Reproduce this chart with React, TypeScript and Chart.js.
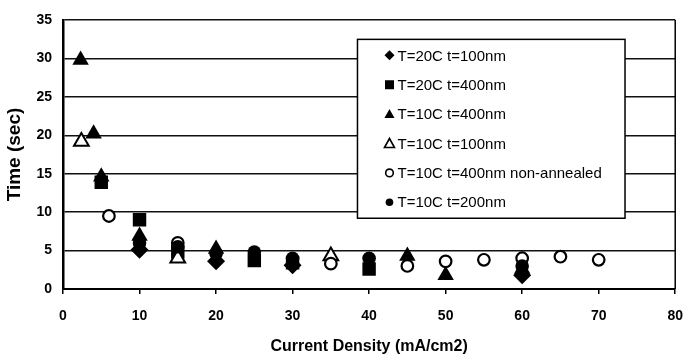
import React, { useEffect, useRef } from 'react';
import { Chart, registerables } from 'chart.js';

Chart.register(...registerables);

const seriesLabels = [
  'T=20C t=100nm',
  'T=20C t=400nm',
  'T=10C t=400nm',
  'T=10C t=100nm',
  'T=10C t=400nm non-annealed',
  'T=10C t=200nm',
];

// T=20C t=100nm (filled diamond)
const s1X = [10, 20, 30, 60];
const s1Y = [5.1, 3.6, 3.1, 1.8];
// T=20C t=400nm (filled square)
const s2X = [5, 10, 15, 25, 30, 40];
const s2Y = [13.9, 9.0, 4.8, 3.7, 3.4, 2.6];
// T=10C t=400nm (filled triangle)
const s3X = [2.3, 4, 5, 10, 20, 45, 50, 60];
const s3Y = [29.8, 20.2, 14.6, 6.9, 5.2, 4.3, 1.8, 2.6];
// T=10C t=100nm (open triangle)
const s4X = [2.4, 15, 35];
const s4Y = [19.2, 4.0, 4.3];
// T=10C t=400nm non-annealed (open circle)
const s5X = [6, 15, 35, 45, 50, 55, 60, 65, 70];
const s5Y = [9.5, 6.0, 3.3, 3.0, 3.6, 3.8, 4.0, 4.2, 3.8];
// T=10C t=200nm (filled circle)
const s6X = [10, 15, 20, 25, 30, 40, 60];
const s6Y = [6.0, 5.5, 4.6, 4.8, 4.0, 4.0, 3.0];

const xTicks = [0, 10, 20, 30, 40, 50, 60, 70, 80];
const yTicks = [0, 5, 10, 15, 20, 25, 30, 35];

const xTitle = 'Current Density (mA/cm2)';
const yTitle = 'Time (sec)';

const FONT = '"Liberation Sans", Arial, sans-serif';

type Marker = 'diamond' | 'square' | 'triangle' | 'circle';
const markerKinds: Marker[] = ['diamond', 'square', 'triangle', 'triangle', 'circle', 'circle'];
const markerFilled = [true, true, true, false, false, true];

const toPts = (xs: number[], ys: number[]) => xs.map((x, i) => ({ x, y: ys[i] }));

function drawMarker(ctx: CanvasRenderingContext2D, kind: Marker, x: number, y: number, s: number, filled: boolean) {
  ctx.save();
  ctx.beginPath();
  if (kind === 'diamond') {
    ctx.moveTo(x, y - s);
    ctx.lineTo(x + s, y);
    ctx.lineTo(x, y + s);
    ctx.lineTo(x - s, y);
    ctx.closePath();
  } else if (kind === 'square') {
    ctx.rect(x - s, y - s, 2 * s, 2 * s);
  } else if (kind === 'triangle') {
    ctx.moveTo(x, y - s);
    ctx.lineTo(x + s, y + s * 0.8);
    ctx.lineTo(x - s, y + s * 0.8);
    ctx.closePath();
  } else {
    ctx.arc(x, y, s, 0, Math.PI * 2);
  }
  if (filled) {
    ctx.fillStyle = '#000';
    ctx.fill();
  } else {
    ctx.fillStyle = '#fff';
    ctx.fill();
    ctx.lineWidth = 1.6;
    ctx.strokeStyle = '#000';
    ctx.stroke();
  }
  ctx.restore();
}

const framePlugin = {
  id: 'frameLegend',
  beforeDatasetsDraw(chart: any) {
    const { ctx, chartArea } = chart;
    ctx.save();
    ctx.strokeStyle = '#000';
    ctx.lineWidth = 1.5;
    ctx.beginPath();
    ctx.moveTo(chartArea.right, chartArea.top);
    ctx.lineTo(chartArea.right, chartArea.bottom);
    ctx.stroke();
    ctx.restore();
  },
  afterDatasetsDraw(chart: any) {
    const { ctx, chartArea } = chart;
    const w = chartArea.right - chartArea.left;
    const h = chartArea.bottom - chartArea.top;
    const left = chartArea.left + w * 0.481;
    const right = chartArea.left + w * 0.918;
    const top = chartArea.top + h * 0.072;
    const bottom = chartArea.top + h * 0.737;
    ctx.save();
    ctx.fillStyle = '#fff';
    ctx.fillRect(left, top, right - left, bottom - top);
    ctx.strokeStyle = '#000';
    ctx.lineWidth = 1.5;
    ctx.strokeRect(left, top, right - left, bottom - top);
    const rowH = (bottom - top - 32) / (seriesLabels.length - 1);
    ctx.font = `15px ${FONT}`;
    ctx.textBaseline = 'middle';
    ctx.textAlign = 'left';
    seriesLabels.forEach((label, i) => {
      const y = top + 16 + i * rowH;
      const mx = left + 32;
      const kind = markerKinds[i];
      const size = kind === 'circle' ? 3.8 : kind === 'triangle' ? 5 : kind === 'diamond' ? 5 : 4.5;
      drawMarker(ctx, kind, mx, y, size, markerFilled[i]);
      ctx.fillStyle = '#000';
      ctx.fillText(label, left + 40, y + 1);
    });
    ctx.restore();
  },
};

export default function App() {
  const canvasRef = useRef<HTMLCanvasElement | null>(null);

  useEffect(() => {
    const canvas = canvasRef.current;
    if (!canvas) return;
    const black = '#000';
    const white = '#fff';
    const chart = new Chart(canvas, {
      type: 'scatter',
      data: {
        datasets: [
          {
            label: seriesLabels[0], data: toPts(s1X, s1Y), order: 6,
            pointStyle: 'rectRot', pointRadius: 9, backgroundColor: black, borderColor: black, borderWidth: 0,
          },
          {
            label: seriesLabels[1], data: toPts(s2X, s2Y), order: 5,
            pointStyle: 'rect', pointRadius: 9.5, backgroundColor: black, borderColor: black, borderWidth: 0,
          },
          {
            label: seriesLabels[2], data: toPts(s3X, s3Y), order: 4,
            pointStyle: 'triangle', pointRadius: 9.5, backgroundColor: black, borderColor: black, borderWidth: 0,
          },
          {
            label: seriesLabels[3], data: toPts(s4X, s4Y), order: 3,
            pointStyle: 'triangle', pointRadius: 8.5, backgroundColor: white, borderColor: black, borderWidth: 2,
          },
          {
            label: seriesLabels[4], data: toPts(s5X, s5Y), order: 2,
            pointStyle: 'circle', pointRadius: 5.8, backgroundColor: white, borderColor: black, borderWidth: 2.2,
          },
          {
            label: seriesLabels[5], data: toPts(s6X, s6Y), order: 1,
            pointStyle: 'circle', pointRadius: 6.8, backgroundColor: black, borderColor: black, borderWidth: 0,
          },
        ],
      },
      options: {
        animation: false,
        responsive: false,
        devicePixelRatio: 1,
        events: [],
        layout: { padding: { top: 20, right: 13, bottom: 0, left: 0 } },
        plugins: {
          legend: { display: false },
          tooltip: { enabled: false },
        },
        scales: {
          x: {
            type: 'linear',
            min: xTicks[0],
            max: xTicks[xTicks.length - 1],
            afterBuildTicks: (s: any) => { s.ticks = xTicks.map((v) => ({ value: v })); },
            afterFit: (s: any) => { s.height = 69; },
            ticks: {
              color: black,
              font: { family: FONT, size: 14, weight: 'bold' },
              padding: 14,
              maxRotation: 0,
            },
            grid: {
              drawOnChartArea: false,
              drawTicks: true,
              tickLength: 5,
              color: black,
              lineWidth: 1.5,
            },
            border: { display: true, color: black, width: 2 },
            title: {
              display: true,
              text: xTitle,
              color: black,
              font: { family: FONT, size: 16, weight: 'bold' },
              padding: { top: 0, bottom: 2 },
            },
          },
          y: {
            type: 'linear',
            min: yTicks[0],
            max: yTicks[yTicks.length - 1],
            afterBuildTicks: (s: any) => { s.ticks = yTicks.map((v) => ({ value: v })); },
            afterFit: (s: any) => { s.width = 63; },
            ticks: {
              color: black,
              font: { family: FONT, size: 14, weight: 'bold' },
              padding: 11,
            },
            grid: {
              drawTicks: false,
              color: '#111',
              lineWidth: 1.5,
            },
            border: { display: true, color: black, width: 2.5 },
            title: {
              display: true,
              text: yTitle,
              color: black,
              font: { family: FONT, size: 19, weight: 'bold' },
              padding: { top: 3.5, bottom: 0 },
            },
          },
        },
      },
      plugins: [framePlugin],
    } as any);
    return () => chart.destroy();
  }, []);

  return (
    <div style={{ position: 'absolute', left: 0, top: 0, width: 697, height: 358, background: '#fff' }}>
      <canvas ref={canvasRef} width={697} height={358} style={{ display: 'block', width: 697, height: 358 }} />
    </div>
  );
}
